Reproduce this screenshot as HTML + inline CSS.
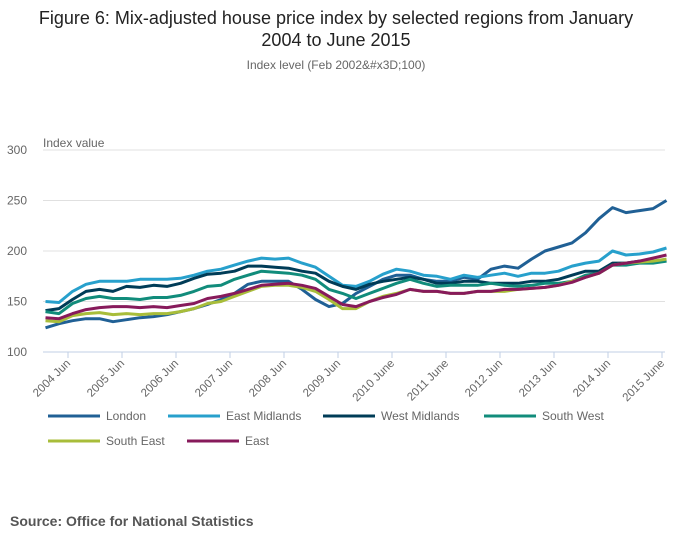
<!DOCTYPE html>
<html><head><meta charset="utf-8"><style>
body{margin:0;background:#fff;font-family:"Liberation Sans","DejaVu Sans",sans-serif}
#wrap{position:relative;width:700px;height:549px;overflow:hidden}
</style></head><body><div id="wrap">
<svg id="svg" width="700" height="549" xmlns="http://www.w3.org/2000/svg">
<text x="336" y="24" text-anchor="middle" font-size="18" fill="#222">Figure 6: Mix-adjusted house price index by selected regions from January</text>
<text x="336" y="46" text-anchor="middle" font-size="18" fill="#222">2004 to June 2015</text>
<text x="336" y="69" text-anchor="middle" font-size="12" fill="#666">Index level (Feb 2002&amp;#x3D;100)</text>
<text x="43" y="147" font-size="12" fill="#666">Index value</text>
<g id="grid"></g><g id="xaxis"></g><g id="series"></g><g id="legend"></g>
<text x="10" y="526" font-size="14" font-weight="bold" fill="#555">Source: Office for National Statistics</text>
</svg></div>
<script>
const yTicks=[100,150,200,250,300];
const xTickLabels=["2004 Jun","2005 Jun","2006 Jun","2007 Jun","2008 Jun","2009 Jun","2010 June","2011 June","2012 Jun","2013 Jun","2014 Jun","2015 June"];
const seriesNames=["London","East Midlands","West Midlands","South West","South East","East"];
const london=[124,128,131,133,133,130,132,134,135,137,140,143,147,152,158,167,170,170,170,162,152,145,148,158,165,172,176,176,172,170,170,174,172,182,185,183,192,200,204,208,218,232,243,238,240,242,250];
const eastMidlands=[150,149,160,167,170,170,170,172,172,172,173,176,180,182,186,190,193,192,193,188,184,175,166,165,170,177,182,180,176,175,172,176,174,176,178,175,178,178,180,185,188,190,200,196,197,199,203];
const westMidlands=[141,143,152,160,162,160,165,164,166,165,168,173,177,178,180,185,185,184,183,180,178,170,165,162,167,170,172,174,172,168,168,170,170,168,168,168,170,170,172,176,180,180,188,188,190,190,191];
const southWest=[140,138,148,153,155,153,153,152,154,154,156,160,165,166,172,176,180,179,178,176,172,162,158,153,158,163,168,172,168,165,166,166,166,168,166,165,166,168,168,170,176,178,186,186,188,188,190];
const southEast=[131,130,136,138,139,137,138,137,138,138,140,143,148,150,155,160,165,166,166,164,160,152,143,143,150,155,158,162,160,160,158,158,160,160,160,162,163,164,166,170,174,178,186,188,189,190,192];
const east=[134,133,138,142,144,145,145,144,145,144,146,148,153,155,158,162,166,167,168,166,163,155,147,145,150,154,157,162,160,160,158,158,160,160,162,162,163,164,166,169,174,178,186,188,190,193,196];
const allSeries=[london,eastMidlands,westMidlands,southWest,southEast,east];
const colors=["#206095","#27a0cc","#003c57","#118c7b","#a8bd3a","#871a5b"];
const NS="http://www.w3.org/2000/svg";
const x0=45.5,pxPerMonth=4.5;
function xScale(m){return x0+m*pxPerMonth;}
function yScale(v){return 352-(v-100)*1.01;}
function mk(tag,attrs,parent){const e=document.createElementNS(NS,tag);for(const k in attrs)e.setAttribute(k,attrs[k]);parent.appendChild(e);return e;}
const grid=document.getElementById('grid');
yTicks.forEach(function(t){
  const l=mk('line',{x1:43,x2:665,y1:yScale(t),y2:yScale(t),stroke:t===100?'#c0cfe4':'#e0e0e0','stroke-width':1},grid);
  
  
  const tx=mk('text',{x:27,y:yScale(t)+4,'text-anchor':'end','font-size':12,fill:'#666'},grid);
  tx.textContent=t;
  
  
});
const xa=document.getElementById('xaxis');
xTickLabels.forEach(function(lab,i){
  const x=xScale(5+12*i);
  const tk=mk('line',{x1:x,x2:x,y1:352,y2:358,stroke:'#c0cfe4'},xa);
  
  
  const tx=mk('text',{x:x+3,y:364,'text-anchor':'end','font-size':11.5,fill:'#666',transform:'rotate(-45 '+(x+3)+' 364)'},xa);
  tx.textContent=lab;
  
  
});
const sg=document.getElementById('series');
allSeries.forEach(function(s,i){
  const pts=s.map(function(v,j){return xScale(j*3).toFixed(1)+','+yScale(v).toFixed(1);}).join(' ');
  const p=mk('polyline',{points:pts,fill:'none',stroke:colors[i],'stroke-width':3,'stroke-linejoin':'round'},sg);
  
  
});
const lg=document.getElementById('legend');
const legPos=[[48,416],[168,416],[323,416],[484,416],[48,441],[187,441]];
seriesNames.forEach(function(n,i){
  const g=mk('g',{},lg);
  
  
  const [x,y]=legPos[i];
  mk('line',{x1:x,x2:x+52,y1:y,y2:y,stroke:colors[i],'stroke-width':3},g);
  const t=mk('text',{x:x+58,y:y+4,'font-size':12,fill:'#666'},g);
  t.textContent=n;
});
</script></body></html>
